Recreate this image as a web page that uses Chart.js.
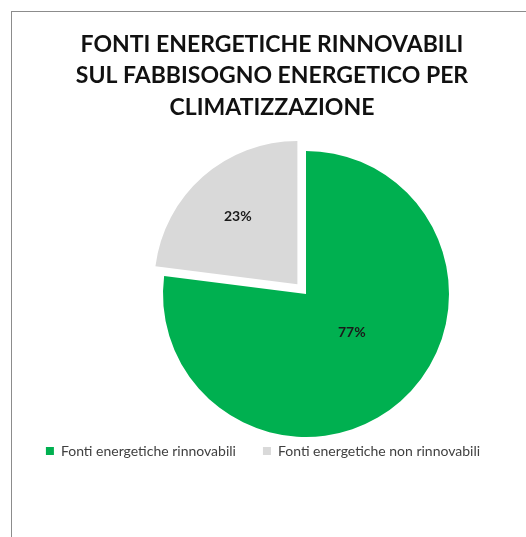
<html>
<head>
  <title>Fonti energetiche rinnovabili</title>
  <script src="https://cdn.jsdelivr.net/npm/chart.js"></script>
  <style>
    body { margin: 0; background: #fff; overflow: hidden; }
    #box {
      position: absolute; left: 11px; top: 11px;
      width: 520px; height: 526px;
      border-left: 1px solid #8c8c8c; border-top: 1px solid #8c8c8c;
    }
  </style>
</head>
<body>
  <div id="box"><canvas id="myChart" width="520" height="525"></canvas></div>

  <script>
    // chart data
    var titleLines = ["FONTI ENERGETICHE RINNOVABILI", "SUL FABBISOGNO ENERGETICO PER", "CLIMATIZZAZIONE"];
    var categories = ["Fonti energetiche rinnovabili", "Fonti energetiche non rinnovabili"];
    var values = [77, 23];
    var sliceColors = ["#00B050", "#D9D9D9"];

    // move the plot area and legend like in the original layout
    var shiftPlot = {
      id: "shiftPlot",
      afterLayout: function (chart, args, opts) {
        var a = chart.chartArea;
        a.left += opts.dx; a.right += opts.dx;
        a.top += opts.dy; a.bottom += opts.dy;
        chart.legend.left += opts.legendDx;
        chart.legend.right += opts.legendDx;
      }
    };

    // percentage labels inside the slices
    var pctLabels = {
      id: "pctLabels",
      afterDatasetsDraw: function (chart, args, opts) {
        var ctx = chart.ctx;
        var meta = chart.getDatasetMeta(0);
        var total = values.reduce(function (s, v) { return s + v; }, 0);
        ctx.save();
        ctx.font = "bold 14px Lato";
        ctx.fillStyle = "#1a1a1a";
        ctx.textAlign = "center";
        ctx.textBaseline = "middle";
        meta.data.forEach(function (arc, i) {
          var p = arc.getProps(["x", "y", "startAngle", "endAngle", "outerRadius"], true);
          var mid = (p.startAngle + p.endAngle) / 2;
          var off = (arc.options.offset || 0) / 4;
          var ox = p.x + Math.cos(mid) * off, oy = p.y + Math.sin(mid) * off;
          var ang = mid + opts.angle[i];
          var r = p.outerRadius * opts.radius[i];
          var txt = Math.round(values[i] / total * 100) + "%";
          ctx.fillText(txt, ox + Math.cos(ang) * r, oy + Math.sin(ang) * r);
        });
        ctx.restore();
      }
    };

    function drawPieChart() {
      var ctx = document.getElementById("myChart").getContext("2d");

      var chart = new Chart(ctx, {
        type: "pie",
        data: {
          labels: categories,
          datasets: [
            {
              data: values,
              backgroundColor: sliceColors,
              borderWidth: 0,
              offset: [0, 52]
            }
          ]
        },
        options: {
          responsive: false,
          animation: false,
          radius: 143,
          layout: { padding: { bottom: 69 } },
          plugins: {
            title: {
              display: true,
              text: titleLines,
              color: "#111",
              font: { family: "Lato", weight: "bold", size: 23, lineHeight: 1.36 },
              padding: { top: 17, bottom: 10 }
            },
            legend: {
              position: "bottom",
              labels: {
                boxWidth: 8,
                boxHeight: 8,
                padding: 27,
                color: "#404040",
                font: { family: "Lato", size: 14 }
              }
            },
            tooltip: { enabled: false },
            shiftPlot: { dx: 34, dy: 19, legendDx: -9 },
            pctLabels: { radius: [0.42, 0.63], angle: [-0.145, 0] }
          }
        },
        plugins: [shiftPlot, pctLabels]
      });
    }

    drawPieChart();
  </script>
</body>
</html>
